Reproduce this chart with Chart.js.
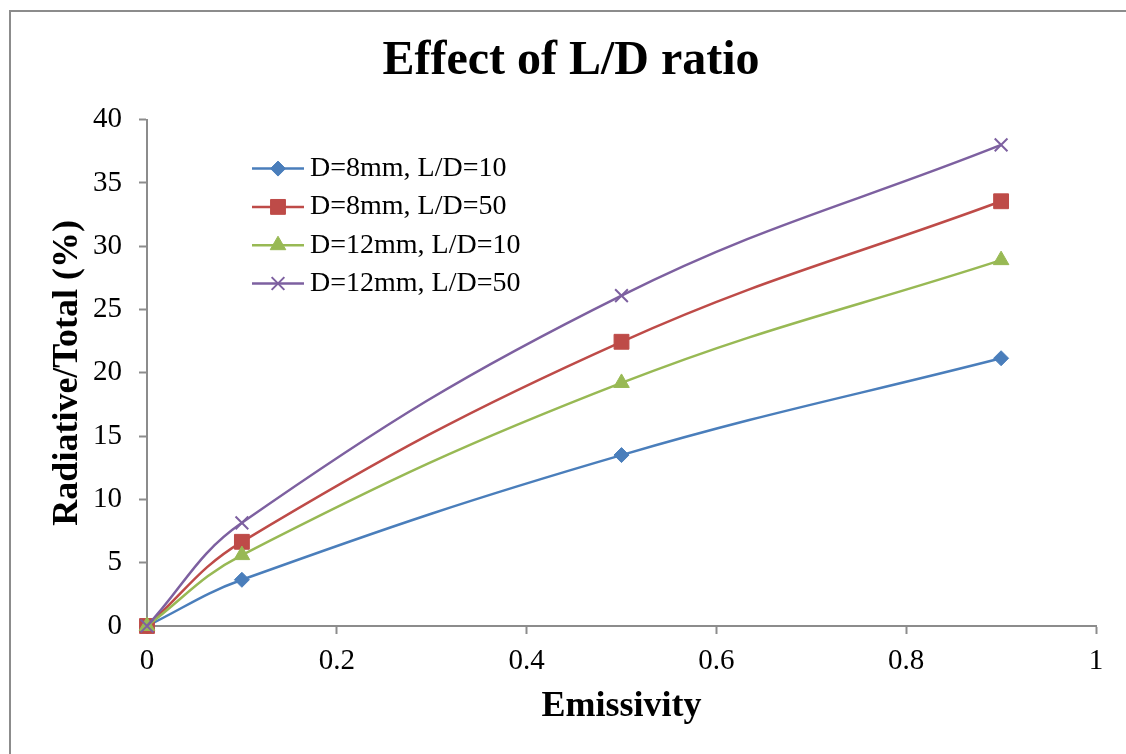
<!DOCTYPE html>
<html>
<head>
<meta charset="utf-8">
<title>Effect of L/D ratio</title>
<script src="https://cdn.jsdelivr.net/npm/chart.js@4.4.1/dist/chart.umd.min.js"></script>
<style>
  html, body { margin: 0; padding: 0; background: #fff; overflow: hidden; }
  #frame { position: absolute; left: 9px; top: 10px; width: 2000px; height: 2000px; border: 2px solid #8c8c8c; }
  #wrap { position: absolute; left: 0; top: 0; width: 1126px; height: 754px; }
</style>
</head>
<body>
<div id="frame"></div>
<div id="wrap"><canvas id="myChart" width="1126" height="754"></canvas></div>
<script>
// Emissivity values (x) and radiative share of total heat loss (%)
const emissivity = [0, 0.1, 0.5, 0.9];
const d8Ld10 = [0, 3.65, 13.5, 21.15];
const d8Ld50 = [0, 6.65, 22.45, 33.55];
const d12Ld10 = [0, 5.6, 19.2, 28.9];
const d12Ld50 = [0, 8.15, 26.1, 38.0];

const seriesLabels = ['D=8mm, L/D=10', 'D=8mm, L/D=50', 'D=12mm, L/D=10', 'D=12mm, L/D=50'];

// axis ranges
const xMin = 0, xMax = 1, xStep = 0.2;
const yMin = 0, yMax = 40, yStep = 5;

const serif = '"Liberation Serif", "Times New Roman", serif';
const axisGrey = '#8c8c8c';

const toPoints = (ys) => ys.map((y, i) => ({ x: emissivity[i], y: y }));

function series(label, values, color, style, radius, order, borderW) {
  return {
    label: label,
    data: toPoints(values),
    borderColor: color,
    backgroundColor: color,
    borderWidth: 2.5,
    pointStyle: style,
    pointRadius: radius,
    pointHoverRadius: radius,
    pointBackgroundColor: color,
    pointBorderColor: color,
    pointBorderWidth: borderW,
    tension: 0.4,
    clip: false,
    order: order
  };
}

// legend drawn inside the plot: line sample with the marker in the middle
const legendInside = {
  id: 'legendInside',
  afterDatasetsDraw(chart, args, opts) {
    const ctx = chart.ctx;
    const area = chart.chartArea;
    const x0 = area.left + opts.dx;
    ctx.save();
    ctx.font = '28px ' + serif;
    ctx.textBaseline = 'middle';
    ctx.textAlign = 'left';
    chart.data.datasets.forEach((ds, i) => {
      const y = area.top + opts.dy + i * opts.rowHeight;
      ctx.strokeStyle = ds.borderColor;
      ctx.lineWidth = ds.borderWidth;
      ctx.beginPath();
      ctx.moveTo(x0, y);
      ctx.lineTo(x0 + opts.lineLength, y);
      ctx.stroke();
      ctx.fillStyle = ds.pointBackgroundColor;
      ctx.strokeStyle = ds.pointBorderColor;
      ctx.lineWidth = ds.pointBorderWidth;
      Chart.helpers.drawPoint(ctx, {
        pointStyle: ds.pointStyle,
        radius: ds.pointRadius,
        rotation: 0,
        borderWidth: ds.pointBorderWidth
      }, x0 + opts.lineLength / 2, y);
      ctx.fillStyle = '#000';
      ctx.fillText(ds.label, x0 + opts.lineLength + 6, y);
    });
    ctx.restore();
  }
};

const tickFont = { family: serif, size: 29 };

const ctx = document.getElementById('myChart');

new Chart(ctx, {
  type: 'line',
  data: {
    datasets: [
      series(seriesLabels[0], d8Ld10, '#4A7EBB', 'rectRot', 7.5, 4, 1),
      series(seriesLabels[1], d8Ld50, '#BE4B48', 'rect', 10.5, 3, 1),
      series(seriesLabels[2], d12Ld10, '#98B954', 'triangle', 9, 2, 1),
      series(seriesLabels[3], d12Ld50, '#7D60A0', 'crossRot', 9, 1, 2)
    ]
  },
  options: {
    responsive: false,
    animation: false,
    devicePixelRatio: 1,
    layout: {
      padding: { left: 46, right: 30, top: 0, bottom: 0 }
    },
    scales: {
      x: {
        type: 'linear',
        min: xMin,
        max: xMax,
        afterFit: (scale) => { scale.height = 128; },
        ticks: {
          stepSize: xStep,
          padding: 10,
          color: '#000',
          font: tickFont,
          callback: (v) => String(Math.round(v * 10) / 10)
        },
        grid: {
          drawOnChartArea: false,
          drawTicks: true,
          tickLength: 8,
          tickWidth: 2,
          color: axisGrey
        },
        border: { display: true, color: axisGrey, width: 2 },
        title: {
          display: true,
          text: 'Emissivity',
          color: '#000',
          font: { family: serif, size: 36, weight: 'bold' },
          padding: { top: 0, bottom: 26 }
        }
      },
      y: {
        type: 'linear',
        min: yMin,
        max: yMax,
        afterFit: (scale) => { scale.width = 101; },
        ticks: {
          stepSize: yStep,
          padding: 17,
          color: '#000',
          font: tickFont
        },
        grid: {
          drawOnChartArea: false,
          drawTicks: true,
          tickLength: 8,
          tickWidth: 2,
          color: axisGrey
        },
        border: { display: true, color: axisGrey, width: 2 },
        title: {
          display: true,
          text: 'Radiative/Total (%)',
          color: '#000',
          font: { family: serif, size: 36, weight: 'bold', lineHeight: 1 },
          padding: { top: 4, bottom: 0 }
        }
      }
    },
    plugins: {
      legend: { display: false },
      tooltip: { enabled: false },
      title: {
        display: true,
        text: 'Effect of L/D ratio',
        color: '#000',
        font: { family: serif, size: 48, weight: 'bold' },
        padding: { top: 33, bottom: 29 }
      },
      legendInside: { dx: 105, dy: 49, rowHeight: 38.3, lineLength: 52 }
    }
  },
  plugins: [legendInside]
});
</script>
</body>
</html>
